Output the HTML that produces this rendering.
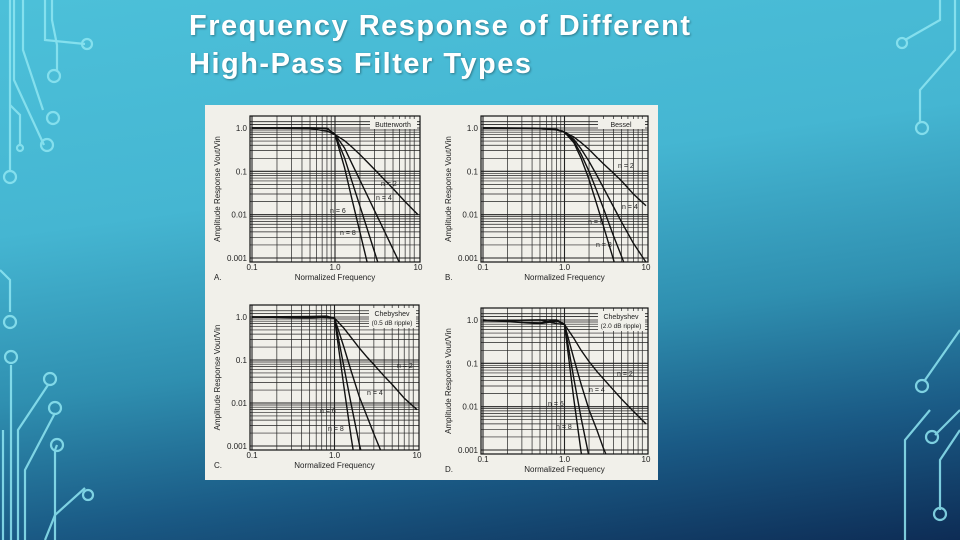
<!DOCTYPE html>
<html><head><meta charset="utf-8">
<style>
html,body{margin:0;padding:0}
body{width:960px;height:540px;overflow:hidden;position:relative;font-family:"Liberation Sans",sans-serif;
background:linear-gradient(172deg,#4cc0d9 0%,#45b6d2 35%,#2f8fb0 60%,#1a5a85 80%,#0d2c55 100%);}
.title{position:absolute;left:189px;top:7px;color:#fff;font-weight:bold;font-size:29px;letter-spacing:1.5px;line-height:38px;text-shadow:1px 1px 2px rgba(0,0,0,.35)}
svg{position:absolute;left:0;top:0}
</style></head><body>
<svg width="960" height="540" fill="none" stroke="#8fe6f2" stroke-width="2.2">
<g opacity=".85">
<path d="M45 0V40l40 4"/><circle cx="87" cy="44" r="5"/>
<path d="M52 0V20l5 25v25"/><circle cx="54" cy="76" r="6"/>
<path d="M23 0v50l20 60"/><circle cx="53" cy="118" r="6"/>
<path d="M14 0v80l30 65"/><circle cx="47" cy="145" r="6"/>
<path d="M10 0v170"/><circle cx="10" cy="177" r="6"/>
<path d="M10 105l10 10v30"/><circle cx="20" cy="148" r="3"/>
<path d="M0 270l10 10v32"/><circle cx="10" cy="322" r="6"/>
<path d="M11 365v175"/><circle cx="11" cy="357" r="6"/>
<path d="M18 540v-110l30-45"/><circle cx="50" cy="379" r="6"/>
<path d="M25 540v-70l30-57"/><circle cx="55" cy="408" r="6"/>
<path d="M55 540v-90l2-5"/><circle cx="57" cy="445" r="6"/>
<path d="M45 540l10-25l30-27"/><circle cx="88" cy="495" r="5"/>
<path d="M3 540v-110"/>
<path d="M940 0v20l-35 20"/><circle cx="902" cy="43" r="5"/>
<path d="M955 0v50l-35 40v33"/><circle cx="922" cy="128" r="6"/>
<path d="M960 330l-35 50"/><circle cx="922" cy="386" r="6"/>
<path d="M960 410l-25 25"/><circle cx="932" cy="437" r="6"/>
<path d="M960 430l-20 30v50"/><circle cx="940" cy="514" r="6"/>
<path d="M905 540v-100l25-30"/>
</g>
</svg>
<div class="title">Frequency Response of Different<br>High-Pass Filter Types</div>
<svg id="chart" width="960" height="540"></svg>
<script>
const freqs=[0.1,0.5,0.8,1,1.3,1.6,2,2.5,3,4,5,7,10];
const butterN2=[1,0.97,0.842,0.707,0.509,0.364,0.243,0.158,0.11,0.062,0.04,0.02,0.01];
const butterN4=[1,0.998,0.968,0.707,0.346,0.151,0.062,0.0256,0.0123,0.0039,0.0016,0.00042,0.0001];
const butterN6=[1,1,0.99,0.707,0.206,0.0593,0.0156,0.0041,0.00137,0.00024,0.0001,0.0001,0.0001];
const butterN8=[1,1,0.996,0.707,0.122,0.023,0.0039,0.00066,0.0001,0.0001,0.0001,0.0001,0.0001];
const besselN2=[1,0.98,0.9,0.8,0.62,0.46,0.32,0.21,0.15,0.09,0.06,0.03,0.016];
const besselN4=[1,0.99,0.92,0.8,0.55,0.33,0.17,0.08,0.042,0.015,0.0068,0.0022,0.0008];
const besselN6=[1,0.99,0.93,0.8,0.5,0.25,0.1,0.035,0.014,0.0032,0.0011,0.0002,0.0001];
const besselN8=[1,0.99,0.94,0.8,0.46,0.2,0.065,0.017,0.0055,0.0009,0.0002,0.0001,0.0001];
const cheb05N2=[1,1.03,1.05,0.944,0.55,0.33,0.19,0.115,0.078,0.042,0.027,0.013,0.007];
const cheb05N4=[1,0.96,1.0,0.944,0.2,0.054,0.014,0.0047,0.0019,0.0005,0.0002,0.0001,0.0001];
const cheb05N6=[1,1.0,0.97,0.944,0.07,0.009,0.0011,0.0002,0.0001,0.0001,0.0001,0.0001,0.0001];
const cheb05N8=[1,0.96,1.0,0.944,0.024,0.0015,0.0001,0.0001,0.0001,0.0001,0.0001,0.0001,0.0001];
const cheb2N2=[0.97,1.0,1.0,0.79,0.38,0.2,0.11,0.065,0.044,0.024,0.015,0.0078,0.004];
const cheb2N4=[1,0.82,0.95,0.79,0.13,0.033,0.0085,0.0029,0.0011,0.0003,0.0001,0.0001,0.0001];
const cheb2N6=[0.97,1.0,0.82,0.79,0.045,0.0055,0.0007,0.0001,0.0001,0.0001,0.0001,0.0001,0.0001];
const cheb2N8=[1,0.85,1.0,0.79,0.015,0.0009,0.0001,0.0001,0.0001,0.0001,0.0001,0.0001,0.0001];
const xTickLabels=["0.1","1.0","10"];
const yTickLabels=["1.0","0.1","0.01","0.001"];
const orderLabels=["n = 2","n = 4","n = 6","n = 8"];

const NS="http://www.w3.org/2000/svg";
const svg=document.getElementById('chart');
function mk(tag,attrs,parent){const e=document.createElementNS(NS,tag);for(const k in attrs)e.setAttribute(k,attrs[k]);(parent||svg).appendChild(e);return e;}

const bg=mk('rect',{x:205,y:105,width:453,height:375,fill:'#f1f0ea'});



const panels=[
 {id:'a',x0:252,x10:418,y1:128,y3:258,name:'Butterworth',name2:'',letter:'A.',series:[butterN2,butterN4,butterN6,butterN8],lab:[[381,186],[376,200],[330,213],[340,235]]},
 {id:'b',x0:483,x10:646,y1:128,y3:258,name:'Bessel',name2:'',letter:'B.',series:[besselN2,besselN4,besselN6,besselN8],lab:[[618,168],[622,209],[588,224],[596,247]]},
 {id:'c',x0:252,x10:417,y1:317,y3:446,name:'Chebyshev',name2:'(0.5 dB ripple)',letter:'C.',series:[cheb05N2,cheb05N4,cheb05N6,cheb05N8],lab:[[397,368],[367,395],[320,413],[328,431]]},
 {id:'d',x0:483,x10:646,y1:320,y3:450,name:'Chebyshev',name2:'(2.0 dB ripple)',letter:'D.',series:[cheb2N2,cheb2N4,cheb2N6,cheb2N8],lab:[[617,376],[589,392],[548,406],[556,429]]}
];

panels.forEach(p=>{
 const g=mk('g',{});
 
 
 const X=f=>p.x0+(Math.log10(f)+1)/2*(p.x10-p.x0);
 const Y=a=>p.y1+(-Math.log10(a))/3*(p.y3-p.y1);
 const top=p.y1-12,bot=p.y3+4,left=p.x0-2,right=p.x10+2;
 const clip=mk('clipPath',{id:'clip'+p.id},g);
 mk('rect',{x:left,y:top,width:right-left,height:bot-top},clip);
 for(let d=-1;d<=0;d++)for(let k=1;k<=9;k++){const xx=X(k*Math.pow(10,d));mk('line',{x1:xx,x2:xx,y1:top,y2:bot,stroke:'#222','stroke-width':k===1?1.1:0.7},g);}
 for(let d=-3;d<=-1;d++)for(let k=1;k<=9;k++){const yy=Y(k*Math.pow(10,d));mk('line',{x1:left,x2:right,y1:yy,y2:yy,stroke:'#222','stroke-width':k===1?1.1:0.7},g);}
 [1,1.2,1.4].forEach(v=>{const yy=Y(v);mk('line',{x1:left,x2:right,y1:yy,y2:yy,stroke:'#222','stroke-width':0.8},g);});
 const fr=mk('rect',{x:left,y:top,width:right-left,height:bot-top,fill:'none',stroke:'#111','stroke-width':1.2},g);
 
 
 p.series.forEach((s,i)=>{
  const d=s.map((v,j)=>(j?'L':'M')+X(freqs[j]).toFixed(1)+' '+Y(v).toFixed(1)).join(' ');
  const path=mk('path',{d:d,fill:'none',stroke:'#111','stroke-width':1.4,'clip-path':'url(#clip'+p.id+')'},g);
  
  
  const t=mk('text',{x:p.lab[i][0],y:p.lab[i][1],'font-size':7,fill:'#222'},g);
  t.textContent=orderLabels[i];
  
  
 });
 xTickLabels.forEach((l,i)=>{const t=mk('text',{x:X(Math.pow(10,i-1)),y:bot+8,'font-size':8,'text-anchor':'middle',fill:'#222'},g);t.textContent=l;
  
  });
 yTickLabels.forEach((l,i)=>{const t=mk('text',{x:left-3,y:Y(Math.pow(10,-i))+3,'font-size':8,'text-anchor':'end',fill:'#222'},g);t.textContent=l;
  
  });
 const xt=mk('text',{x:(left+right)/2,y:bot+18,'font-size':8,'text-anchor':'middle',fill:'#222'},g);xt.textContent='Normalized Frequency';
 
 
 const cy=(top+bot)/2;
 const yt=mk('text',{x:0,y:0,'font-size':8,'text-anchor':'middle',fill:'#222',transform:`translate(${left-30},${cy}) rotate(-90)`},g);yt.textContent='Amplitude Response Vout/Vin';
 
 
 const lt=mk('text',{x:left-36,y:bot+18,'font-size':8,fill:'#222'},g);lt.textContent=p.letter;
 
 
 mk('rect',{x:right-50,y:top+3,width:47,height:p.name2?20:10,fill:'#f1f0ea'},g);
 const nt=mk('text',{x:right-27,y:top+11,'font-size':7,'text-anchor':'middle',fill:'#222'},g);nt.textContent=p.name;
 
 
 if(p.name2){const n2=mk('text',{x:right-27,y:top+20,'font-size':6.5,'text-anchor':'middle',fill:'#222'},g);n2.textContent=p.name2;}
});
</script>
</body></html>
